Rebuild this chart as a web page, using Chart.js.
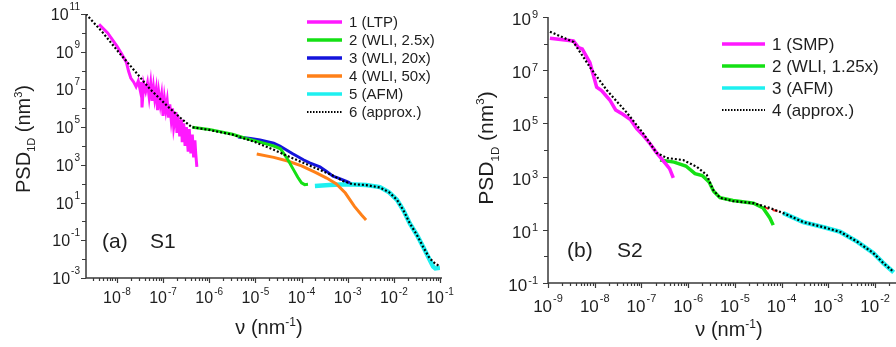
<!DOCTYPE html>
<html>
<head>
<meta charset="utf-8">
<script src="https://cdn.jsdelivr.net/npm/chart.js@4.4.1/dist/chart.umd.min.js"></script>
<style>
  html, body { margin: 0; padding: 0; background: #fff; }
  #wrap { position: relative; width: 896px; height: 347px; overflow: hidden; }
  canvas { position: absolute; top: 0; }
  #ca { left: 0; }
  #cb { left: 448px; }
</style>
</head>
<body>
<div id="wrap">
  <canvas id="ca" width="470" height="347"></canvas>
  <canvas id="cb" width="448" height="347"></canvas>
</div>
<script>
// ---- panel (a), sample S1 ----
const ltpNu  = [4.1e-9, 6.3e-9, 1.0e-8, 1.26e-8, 1.6e-8, 1.8e-8, 2.0e-8, 2.3e-8, 2.6e-8, 2.9e-8, 3.2e-8, 3.4e-8, 3.5e-8, 3.8e-8, 4.2e-8, 4.6e-8, 5.0e-8, 5.4e-8, 5.8e-8, 6.2e-8, 6.6e-8, 7.1e-8, 7.6e-8, 8.1e-8, 8.7e-8, 9.3e-8, 1.0e-7, 1.07e-7, 1.15e-7, 1.23e-7, 1.32e-7, 1.4e-7, 1.5e-7, 1.6e-7, 1.7e-7, 1.9e-7, 2.0e-7, 2.1e-7, 2.3e-7, 2.5e-7, 2.6e-7, 2.8e-7, 3.0e-7, 3.2e-7, 3.5e-7, 3.7e-7, 4.0e-7, 4.3e-7, 4.6e-7, 4.9e-7, 5.1e-7, 5.4e-7];
const ltpPsd = [2.8e10, 1.0e10, 2.0e9, 7.9e8, 2.8e8, 8.9e7, 4.0e7, 2.5e7, 1.4e7, 2.8e7, 8.9e6, 2.5e7, 1.1e6, 2.0e7, 7.9e6, 2.2e7, 4.0e6, 2.0e7, 2.5e6, 1.26e7, 3.2e6, 1.0e7, 7.9e5, 6.3e6, 1.6e6, 5.0e6, 4.0e5, 3.2e6, 7.9e5, 2.5e6, 3.2e5, 1.6e6, 2.5e5, 1.0e6, 1.0e5, 6.3e5, 5.0e4, 4.0e5, 3.2e4, 2.5e5, 1.6e4, 1.6e5, 1.0e4, 1.0e5, 5.0e3, 7.9e4, 4.0e3, 4.0e4, 2.5e3, 2.0e4, 4.0e3, 790];

const wli25Nu  = [4.3e-7, 1.0e-6, 3.2e-6, 6.3e-6, 1.26e-5, 2.5e-5, 3.5e-5, 5.0e-5, 6.5e-5, 8.3e-5, 1.0e-4, 1.17e-4, 1.38e-4];
const wli25Psd = [1.0e5, 7.6e4, 4.2e4, 2.5e4, 1.6e4, 1.0e4, 7.1e3, 2.0e3, 630, 220, 110, 89, 93];

const wli20Nu  = [4.2e-6, 7.9e-6, 1.26e-5, 2.5e-5, 3.4e-5, 6.3e-5, 1.12e-4, 1.5e-4, 2.5e-4, 3.5e-4, 4.8e-4, 6.3e-4, 8.9e-4, 1.12e-3];
const wli20Psd = [3.0e4, 2.5e4, 2.1e4, 1.4e4, 1.0e4, 4.0e3, 1.8e3, 1.26e3, 790, 450, 250, 200, 140, 110];

const wli50Nu  = [1.07e-5, 2.5e-5, 5.0e-5, 1.0e-4, 2.0e-4, 3.5e-4, 5.6e-4, 8.9e-4, 1.4e-3, 2.0e-3, 2.5e-3];
const wli50Psd = [3.8e3, 2.5e3, 1.6e3, 890, 400, 200, 100, 32, 6.3, 2.2, 1.2];

const afmANu  = [1.95e-4, 4.0e-4, 1.0e-3, 2.5e-3, 5.0e-3, 7.9e-3, 1.17e-2, 1.6e-2, 2.2e-2, 3.2e-2, 4.3e-2, 5.6e-2, 7.1e-2, 7.9e-2, 0.1];
const afmAPsd = [76, 85, 95, 85, 66, 35, 14, 4.0, 0.8, 0.18, 0.045, 0.0126, 0.004, 0.0032, 0.0035];

const fitANu  = [2.14e-9, 5.0e-9, 1.07e-8, 2.5e-8, 5.2e-8, 1.26e-7, 2.5e-7, 4.2e-7, 1.0e-6, 3.2e-6, 1.0e-5, 2.5e-5, 5.6e-5, 1.26e-4, 2.5e-4, 4.8e-4, 7.9e-4, 1.26e-3, 2.5e-3, 5.0e-3, 7.9e-3, 1.17e-2, 1.6e-2, 2.2e-2, 3.2e-2, 4.3e-2, 5.6e-2, 7.1e-2, 0.1];
const fitAPsd = [1.0e11, 1.0e10, 1.0e9, 8.9e7, 1.05e7, 1.26e6, 2.8e5, 1.0e5, 7.1e4, 4.0e4, 1.6e4, 6.3e3, 2.6e3, 1.1e3, 540, 270, 140, 95, 85, 63, 35, 14, 4.0, 0.83, 0.18, 0.045, 0.014, 0.0071, 0.004];

// ---- panel (b), sample S2 ----
const smpNu  = [1.1e-9, 3.5e-9, 4.5e-9, 5.4e-9, 7.9e-9, 1.1e-8, 1.4e-8, 2.1e-8, 2.8e-8, 4.0e-8, 5.8e-8, 7.9e-8, 1.1e-7, 1.5e-7, 2.0e-7, 2.9e-7, 4.0e-7, 4.8e-7];
const smpPsd = [1.6e8, 1.26e8, 7.1e7, 6.3e7, 1.9e7, 2.3e6, 1.7e6, 7.6e5, 3.2e5, 2.2e5, 1.4e5, 6.3e4, 3.5e4, 1.8e4, 8.9e3, 4.0e3, 2.0e3, 890];

const wli125Nu  = [2.5e-7, 5.0e-7, 8.9e-7, 1.4e-6, 2.0e-6, 2.8e-6, 3.5e-6, 4.8e-6, 9.1e-6, 2.5e-5, 4.0e-5, 5.6e-5, 6.6e-5];
const wli125Psd = [4.2e3, 3.5e3, 2.5e3, 1.3e3, 1.1e3, 630, 280, 160, 126, 100, 66, 28, 15];

const joinNu  = [2.8e-5, 5.0e-5, 8.9e-5];
const joinPsd = [95, 63, 48];

const afmBNu  = [1.07e-4, 2.9e-4, 7.8e-4, 1.8e-3, 4.2e-3, 9.1e-3, 1.5e-2, 2.5e-2];
const afmBPsd = [43, 19.5, 12.6, 8.3, 3.5, 1.35, 0.56, 0.25];

const fitBNu  = [1.1e-9, 3.5e-9, 7.9e-9, 1.8e-8, 4.9e-8, 1.07e-7, 2.1e-7, 3.5e-7, 7.8e-7, 1.55e-6, 2.5e-6, 3.4e-6, 4.8e-6, 9.1e-6, 2.5e-5, 5.6e-5, 1.07e-4, 2.9e-4, 7.8e-4, 1.8e-3, 4.2e-3, 9.1e-3, 1.5e-2, 2.5e-2];
const fitBPsd = [2.8e8, 1.15e8, 1.3e7, 1.8e6, 2.5e5, 4.4e4, 7.8e3, 5.0e3, 4.2e3, 2.3e3, 1.15e3, 320, 160, 120, 100, 66, 43, 19.5, 12.6, 8.3, 3.5, 1.35, 0.56, 0.26];

// tick labels (powers of ten)
const aXTickExp = [-8, -7, -6, -5, -4, -3, -2, -1];
const aYTickExp = [11, 9, 7, 5, 3, 1, -1, -3];
const bXTickExp = [-9, -8, -7, -6, -5, -4, -3, -2];
const bYTickExp = [9, 7, 5, 3, 1, -1];

const FONT = "'Liberation Sans', Arial, sans-serif";
const TXT = '#1e1e1e';
const AXIS = '#3a3a3a';

function pts(nu, psd) {
  return nu.map((x, i) => ({ x: x, y: psd[i] }));
}

function line(label, nu, psd, color, extra) {
  return Object.assign({
    label: label,
    data: pts(nu, psd),
    showLine: true,
    borderColor: color,
    backgroundColor: color,
    borderWidth: 3,
    pointRadius: 0,
    fill: false,
    order: 1
  }, extra || {});
}

function fitLine(label, nu, psd) {
  return line(label, nu, psd, '#000', { borderWidth: 2.2, borderDash: [2, 2], order: 0 });
}

function pow10(ctx, x, y, exp, p, align) {
  // "10" with a raised exponent; align 'center' or 'right'
  ctx.font = p.base + 'px ' + FONT;
  const w1 = ctx.measureText('10').width;
  ctx.font = p.sup + 'px ' + FONT;
  const e = String(exp);
  const w2 = ctx.measureText(e).width;
  let x0 = align === 'right' ? x - w1 - w2 - 1 : x - (w1 + w2 + 1) / 2;
  ctx.textAlign = 'left';
  ctx.textBaseline = 'alphabetic';
  ctx.font = p.base + 'px ' + FONT;
  ctx.fillText('10', x0, y);
  ctx.font = p.sup + 'px ' + FONT;
  ctx.fillText(e, x0 + w1 + 1, y - p.raise);
}

function richText(ctx, parts, size) {
  let w = 0;
  parts.forEach(s => { ctx.font = (size * s.s) + 'px ' + FONT; s.w = ctx.measureText(s.t).width; w += s.w; });
  return w;
}

function drawParts(ctx, parts, size, x, y) {
  parts.forEach(s => {
    ctx.font = (size * s.s) + 'px ' + FONT;
    ctx.fillText(s.t, x, y + s.dy * size);
    x += s.w;
  });
}

const decor = {
  id: 'decor',
  afterDraw(chart) {
    const c = chart.options.plugins.decor;
    const ctx = chart.ctx;
    const a = chart.chartArea;
    const sx = chart.scales.x, sy = chart.scales.y;
    ctx.save();
    ctx.fillStyle = TXT;
    ctx.strokeStyle = AXIS;
    ctx.lineWidth = 1.5;
    ctx.setLineDash([]);

    // axis lines
    ctx.beginPath();
    ctx.moveTo(a.left, a.top);
    ctx.lineTo(a.left, a.bottom);
    ctx.lineTo(a.right + 2, a.bottom);
    ctx.stroke();

    // x ticks: every 1..9 x 10^n
    ctx.lineWidth = 1.2;
    const lo = Math.floor(Math.log10(sx.min)), hi = Math.ceil(Math.log10(sx.max));
    ctx.beginPath();
    for (let e = lo; e <= hi; e++) {
      for (let m = 1; m <= 9; m++) {
        const v = m * Math.pow(10, e);
        if (v < sx.min * 0.999 || v > sx.max * 1.001) continue;
        const px = Math.round(sx.getPixelForValue(v)) + 0.5;
        ctx.moveTo(px, a.bottom);
        ctx.lineTo(px, a.bottom + (m === 1 ? 5 : 3));
      }
    }
    // y ticks: every decade
    const ylo = Math.round(Math.log10(sy.min)), yhi = Math.round(Math.log10(sy.max));
    for (let e = ylo; e <= yhi; e++) {
      const py = Math.round(sy.getPixelForValue(Math.pow(10, e))) + 0.5;
      ctx.moveTo(a.left, py);
      ctx.lineTo(a.left - (c.yTicks.includes(e) ? 5 : 4), py);
    }
    ctx.stroke();

    // tick labels
    c.xTicks.forEach(e => {
      pow10(ctx, sx.getPixelForValue(Math.pow(10, e)), a.bottom + c.xLab.dy, e, c.xLab, 'center');
    });
    c.yTicks.forEach(e => {
      pow10(ctx, a.left - c.yLab.gap, sy.getPixelForValue(Math.pow(10, e)) + c.yLab.dy, e, c.yLab, 'right');
    });

    // y title, rotated
    const yParts = [
      { t: 'PSD', s: 1, dy: 0 },
      { t: '1D', s: 0.55, dy: 0.27 },
      { t: ' (nm', s: 1, dy: 0 },
      { t: '3', s: 0.55, dy: -0.42 },
      { t: ')', s: 1, dy: 0 }
    ];
    ctx.save();
    ctx.translate(c.yTitle.x, c.yTitle.y);
    ctx.rotate(-Math.PI / 2);
    ctx.textAlign = 'left';
    ctx.textBaseline = 'alphabetic';
    const yw = richText(ctx, yParts, c.yTitle.size);
    drawParts(ctx, yParts, c.yTitle.size, -yw / 2, 0);
    ctx.restore();

    // x title
    const xParts = [
      { t: '\u03bd (nm', s: 1, dy: 0 },
      { t: '-1', s: 0.6, dy: -0.42 },
      { t: ')', s: 1, dy: 0 }
    ];
    const xw = richText(ctx, xParts, c.xTitle.size);
    drawParts(ctx, xParts, c.xTitle.size, c.xTitle.x - xw / 2, c.xTitle.y);

    // panel tag
    ctx.font = c.tag.size + 'px ' + FONT;
    ctx.fillText(c.tag.a, c.tag.x1, c.tag.y);
    ctx.fillText(c.tag.b, c.tag.x2, c.tag.y);

    // legend
    const L = c.legend;
    let row = 0;
    chart.data.datasets.forEach(ds => {
      if (ds.noLegend) return;
      const y = L.y + row * L.step;
      ctx.strokeStyle = ds.borderColor;
      ctx.lineWidth = ds.borderDash ? 2 : 3.5;
      ctx.setLineDash(ds.borderDash ? [1.5, 1.5] : []);
      ctx.beginPath();
      ctx.moveTo(L.x1, y);
      ctx.lineTo(L.x2, y);
      ctx.stroke();
      ctx.setLineDash([]);
      ctx.fillStyle = TXT;
      ctx.font = L.size + 'px ' + FONT;
      ctx.textBaseline = 'middle';
      ctx.fillText(ds.label, L.tx, y + 1);
      ctx.textBaseline = 'alphabetic';
      row++;
    });
    ctx.restore();
  }
};

function makePanel(id, datasets, g) {
  return new Chart(document.getElementById(id), {
    type: 'scatter',
    data: { datasets: datasets },
    options: {
      responsive: false,
      animation: false,
      devicePixelRatio: 1,
      layout: { padding: { top: g.top, right: g.right, left: 0, bottom: 0 } },
      elements: { line: { tension: 0 }, point: { radius: 0 } },
      plugins: { legend: { display: false }, tooltip: { enabled: false }, decor: g.decor },
      scales: {
        x: {
          type: 'logarithmic', min: g.xMin, max: g.xMax,
          ticks: { display: false }, grid: { display: false }, border: { display: false },
          afterFit: s => { s.height = g.xH; }
        },
        y: {
          type: 'logarithmic', min: g.yMin, max: g.yMax,
          ticks: { display: false }, grid: { display: false }, border: { display: false },
          afterFit: s => { s.width = g.yW; }
        }
      }
    },
    plugins: [decor]
  });
}

makePanel('ca', [
  line('1 (LTP)', ltpNu, ltpPsd, '#ff19ff'),
  line('2 (WLI, 2.5x)', wli25Nu, wli25Psd, '#14e014'),
  line('3 (WLI, 20x)', wli20Nu, wli20Psd, '#1414dc'),
  line('4 (WLI, 50x)', wli50Nu, wli50Psd, '#ff8018'),
  line('5 (AFM)', afmANu, afmAPsd, '#1ef0f0', { borderWidth: 4.5 }),
  fitLine('6 (approx.)', fitANu, fitAPsd)
], {
  top: 14, right: 30, xH: 69, yW: 86,
  xMin: 2.14e-9, xMax: 0.1, yMin: 1e-3, yMax: 1e11,
  decor: {
    xTicks: aXTickExp, yTicks: aYTickExp,
    xLab: { base: 16, sup: 10, raise: 8, dy: 25 },
    yLab: { base: 16, sup: 10, raise: 10, dy: 6, gap: 6 },
    yTitle: { x: 30, y: 139, size: 20 },
    xTitle: { x: 269, y: 334, size: 20 },
    tag: { a: '(a)', b: 'S1', x1: 102, x2: 150, y: 248, size: 21 },
    legend: { x1: 307, x2: 342, tx: 349, y: 22, step: 18, size: 15 }
  }
});

makePanel('cb', [
  line('1 (SMP)', smpNu, smpPsd, '#ff19ff', { borderWidth: 3.5 }),
  line('2 (WLI, 1.25x)', wli125Nu, wli125Psd, '#14e014', { borderWidth: 3.5 }),
  line('3 (AFM)', afmBNu, afmBPsd, '#1ef0f0', { borderWidth: 4.5 }),
  line('', joinNu, joinPsd, '#ff2020', { borderWidth: 2, borderDash: [5, 4], noLegend: true, order: 2 }),
  fitLine('4 (approx.)', fitBNu, fitBPsd)
], {
  top: 17, right: 0, xH: 64, yW: 100,
  xMin: 1e-9, xMax: 0.028, yMin: 0.1, yMax: 1e9,
  decor: {
    xTicks: bXTickExp, yTicks: bYTickExp,
    xLab: { base: 17, sup: 11, raise: 10, dy: 29 },
    yLab: { base: 17, sup: 11, raise: 7, dy: 8, gap: 10 },
    yTitle: { x: 45, y: 148, size: 21 },
    xTitle: { x: 281, y: 336, size: 20 },
    tag: { a: '(b)', b: 'S2', x1: 119, x2: 169, y: 257, size: 21 },
    legend: { x1: 274, x2: 317, tx: 324, y: 44, step: 22, size: 17 }
  }
});
</script>
</body>
</html>
